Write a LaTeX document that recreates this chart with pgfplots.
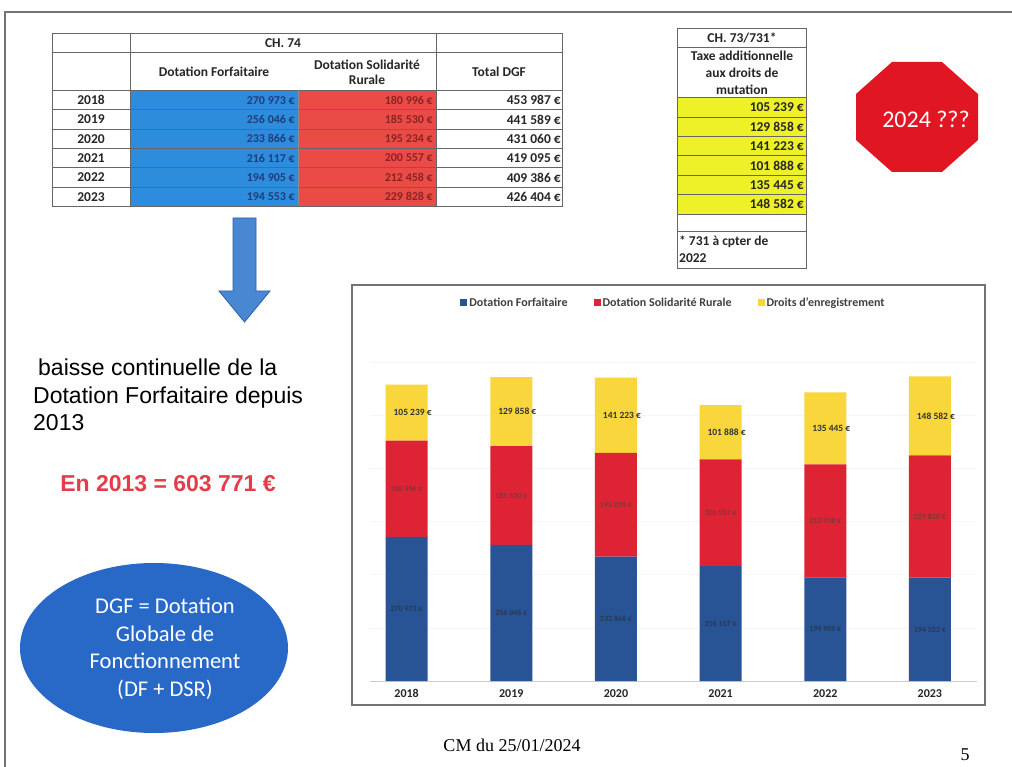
\documentclass[border=0pt]{standalone}
\usepackage{fontspec}
\setmainfont{Carlito}
\newfontfamily\arialf{Liberation Sans}
\newfontfamily\serif{Liberation Serif}
\usepackage{pgfplots}
\pgfplotsset{compat=1.18}
\usepackage{pgfplotstable}

\definecolor{cBlue}{RGB}{40,84,150}
\definecolor{cRed}{RGB}{222,36,52}
\definecolor{cYel}{RGB}{248,214,60}
\definecolor{tBlue}{RGB}{45,140,220}
\definecolor{tRed}{RGB}{235,75,70}
\definecolor{tYel}{RGB}{238,240,40}
\definecolor{tBlueTxt}{RGB}{30,62,125}
\definecolor{tRedTxt}{RGB}{140,35,35}
\definecolor{arrowBlue}{RGB}{72,136,210}
\definecolor{arrowEdge}{RGB}{45,95,165}
\definecolor{octRed}{RGB}{225,22,35}
\definecolor{ellBlue}{RGB}{40,105,200}
\definecolor{enRed}{RGB}{228,60,72}

\pgfplotstableread[col sep=comma]{
x,df,dsr,dr
0,270973,180996,105239
1,256046,185530,129858
2,233866,195234,141223
3,216117,200557,101888
4,194905,212458,135445
5,194553,229828,148582
}\bars

\pgfplotstableread[col sep=comma]{
x,y,lab
0,135486,270 973 €
1,128023,256 046 €
2,116933,233 866 €
3,108058,216 117 €
4,97452,194 905 €
5,97276,194 553 €
}\dflab
\pgfplotstableread[col sep=comma]{
x,y,lab
0,361471,180 996 €
1,348811,185 530 €
2,331483,195 234 €
3,316395,200 557 €
4,301134,212 458 €
5,309467,229 828 €
}\dsrlab
\pgfplotstableread[col sep=comma]{
x,y,lab
0,504588,105 239 €
1,506505,129 858 €
2,499711,141 223 €
3,467618,101 888 €
4,475085,135 445 €
5,498672,148 582 €
}\drlab

\begin{document}
\begin{tikzpicture}[x=1pt,y=-1pt]
\path[use as bounding box] (0,0) rectangle (1012,767);
\fill[white] (0,0) rectangle (1012,767);
% slide border
\draw[black!55, line width=1.6pt] (5,767) -- (5,12) -- (1012,12);

% ---------- left table ----------
\fill[tBlue] (130,90.5) rectangle (298,206.3);
\fill[tRed] (298,90.5) rectangle (436,206.3);
\draw[black!60, line width=0.6pt] (52,33) rectangle (562,206.3);
\foreach \yy in {52,90.5,109.8,129.1,148.4,167.7,187}
  \draw[black!60, line width=0.6pt] (52,\yy) -- (562,\yy);
\draw[black!60, line width=0.6pt] (130,33) -- (130,206.3);
\draw[black!60, line width=0.6pt] (436,33) -- (436,206.3);
\draw[black!45, line width=0.4pt] (298,90.5) -- (298,206.3);
\begin{scope}[font=\fontsize{13.5}{15}\selectfont\bfseries, text=black!85]
\node at (283,43) {CH. 74};
\node at (214,72) {Dotation Forfaitaire};
\node[align=center] at (367,72) {Dotation Solidarité\\Rurale};
\node at (499,72) {Total DGF};
\foreach \yr/\a/\b/\t [count=\i from 0] in {2018/270 973/180 996/453 987,2019/256 046/185 530/441 589,2020/233 866/195 234/431 060,2021/216 117/200 557/419 095,2022/194 905/212 458/409 386,2023/194 553/229 828/426 404}{
  \node at (91,100.2+19.3*\i) {\yr};
  \node[anchor=east, text=tBlueTxt, inner sep=1pt, font=\fontsize{12}{14}\selectfont\bfseries] at (296,100.2+19.3*\i) {\a\ €};
  \node[anchor=east, text=tRedTxt, inner sep=1pt, font=\fontsize{12}{14}\selectfont\bfseries] at (434,100.2+19.3*\i) {\b\ €};
  \node[anchor=east, inner sep=1pt] at (562,100.2+19.3*\i) {\t\ €};
}
\end{scope}

% ---------- right table ----------
\fill[tYel] (677,97.5) rectangle (806,213.9);
\draw[black!60, line width=0.6pt] (677,28) rectangle (806,268);
\foreach \yy in {47,97.5,116.9,136.3,155.7,175.1,194.5,213.9,231}
  \draw[black!60, line width=0.6pt] (677,\yy) -- (806,\yy);
\begin{scope}[font=\fontsize{13.5}{15}\selectfont\bfseries, text=black!85]
\node at (742,38) {CH. 73/731*};
\node[align=center, font=\fontsize{13.5}{17}\selectfont\bfseries] at (742,73) {Taxe additionnelle\\aux droits de\\mutation};
\foreach \v [count=\i from 0] in {105 239,129 858,141 223,101 888,135 445,148 582}
  \node[anchor=east, inner sep=1pt] at (805,107.2+19.4*\i) {\v\ €};
\node[anchor=north west, align=left, inner sep=1pt, font=\fontsize{13.5}{17}\selectfont\bfseries] at (678,235) {* 731 à cpter de\\2022};
\end{scope}

% ---------- octagon ----------
\fill[octRed] (856,94) -- (892,62) -- (942,62) -- (978,94) -- (978,140) -- (942,172) -- (892,172) -- (856,140) -- cycle;
\node[text=white, font=\fontsize{24}{28}\selectfont] at (926,119) {2024 ???};

% ---------- arrow ----------
\filldraw[fill=arrowBlue, draw=arrowEdge, line width=0.8pt] (233,218) -- (256,218) -- (256,291) -- (270,291) -- (244.5,322) -- (219,291) -- (233,291) -- cycle;

% ---------- texts ----------
\node[anchor=west, align=left, inner sep=0pt, font=\arialf\fontsize{23}{27.5}\selectfont] at (33,395) {\hspace*{5pt}baisse continuelle de la\\Dotation Forfaitaire depuis\\2013};
\node[text=enRed, font=\arialf\bfseries\fontsize{23}{26}\selectfont] at (168,484) {En 2013 = 603 771 €};

\fill[ellBlue] (154,648) ellipse [x radius=134, y radius=85];
\node[text=white, align=center, font=\fontsize{22.5}{27.5}\selectfont] at (165,649) {DGF = Dotation\\Globale de\\Fonctionnement\\(DF + DSR)};

\node[font=\serif\fontsize{18}{20}\selectfont] at (512,745) {CM du 25/01/2024};
\node[font=\serif\fontsize{18}{20}\selectfont] at (965,755) {5};

% ---------- chart ----------
\draw[black!55, line width=1.2pt] (352,285) rectangle (985,705);
\coordinate (cho) at (370,681);

\begin{axis}[at={(cho)}, anchor=south west, scale only axis,
  width=607pt, height=351pt,
  xmin=-0.35, xmax=5.45, ymin=0, ymax=660000,
  ybar stacked, bar width=42pt,
  axis x line*=bottom, axis y line*=left,
  x axis line style={black!20},
  y axis line style={draw=none},
  xtick={0,1,2,3,4,5},
  xticklabels={2018,2019,2020,2021,2022,2023},
  major tick length=0pt,
  xticklabel style={font=\fontsize{12}{14}\selectfont\bfseries, text=black!85, yshift=-5pt},
  ytick={100000,200000,300000,400000,500000,600000},
  yticklabels={}, scaled y ticks=false,
  ymajorgrids, grid style={black!4},
  legend columns=3,
  legend style={at={(0.5,1.077)}, anchor=center, draw=none, fill=none,
    font=\fontsize{12}{14}\selectfont\bfseries, text=black!75,
    /tikz/every even column/.append style={column sep=24pt}},
  legend image code/.code={\fill[#1] (0pt,-3.5pt) rectangle (7pt,3.5pt);},
]
\addplot[fill=cBlue, draw=none] table[x=x,y=df]{\bars};
\addplot[fill=cRed, draw=none] table[x=x,y=dsr]{\bars};
\addplot[fill=cYel, draw=none] table[x=x,y=dr]{\bars};
\legend{Dotation Forfaitaire,Dotation Solidarité Rurale,Droits d'enregistrement}
\end{axis}

\begin{axis}[at={(cho)}, anchor=south west, scale only axis,
  width=607pt, height=351pt,
  xmin=-0.35, xmax=5.45, ymin=0, ymax=660000,
  hide axis, clip=false]
\addplot[only marks, mark=none, nodes near coords, point meta=explicit symbolic,
  every node near coord/.append style={font=\fontsize{8}{9}\selectfont\bfseries, text=black!85, opacity=0.6, inner sep=0pt, yshift=-3pt}]
  table[x=x,y=y,meta=lab]{\dflab};
\addplot[only marks, mark=none, nodes near coords, point meta=explicit symbolic,
  every node near coord/.append style={font=\fontsize{8}{9}\selectfont\bfseries, text=black!75, opacity=0.55, inner sep=0pt, yshift=-3pt}]
  table[x=x,y=y,meta=lab]{\dsrlab};
\addplot[only marks, mark=none, nodes near coords, point meta=explicit symbolic,
  every node near coord/.append style={font=\fontsize{9.5}{11}\selectfont\bfseries, text=black!80, inner sep=0pt, yshift=-3.5pt, xshift=6pt}]
  table[x=x,y=y,meta=lab]{\drlab};
\end{axis}
\end{tikzpicture}
\end{document}
